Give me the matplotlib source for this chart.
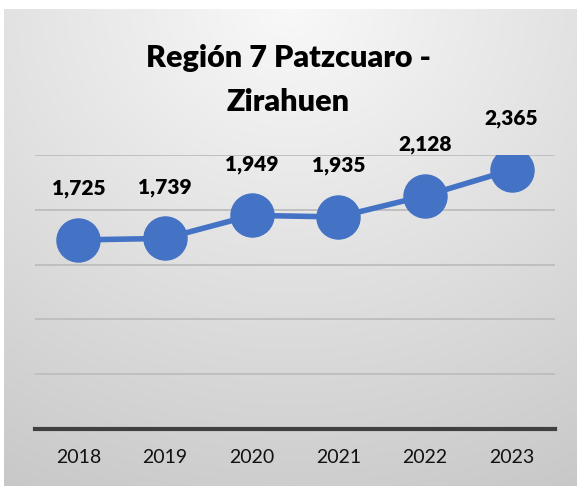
import numpy as np
import matplotlib.pyplot as plt

years = ['2018', '2019', '2020', '2021', '2022', '2023']
values = [1725, 1739, 1949, 1935, 2128, 2365]
labels = ['1,725', '1,739', '1,949', '1,935', '2,128', '2,365']
title = 'Región 7 Patzcuaro -\nZirahuen'

blue = '#4472C4'
plt.rcParams['font.family'] = ['Lato', 'DejaVu Sans']

fig = plt.figure(figsize=(5.77, 4.86), dpi=100)
fig.patch.set_facecolor('white')

# radial gradient background of the chart area
bg = fig.add_axes([4 / 577, 0, 1 - 4 / 577, 1 - 9 / 486])
bg.set_axis_off()
yy, xx = np.mgrid[0:1:300j, 0:1:300j]
r = np.sqrt(((xx - 0.5) * 1.0) ** 2 + (yy * 0.95) ** 2)
r = r / r.max()
shade = 0.975 - 0.19 * r
bg.imshow(np.dstack([shade] * 3), extent=[0, 1, 0, 1], origin='upper', aspect='auto')
bg.set_xlim(0, 1)
bg.set_ylim(0, 1)

ax = fig.add_axes([35 / 577, 1 - 429 / 486, 520 / 577, 274 / 486])
ax.patch.set_alpha(0)
x = np.arange(len(years))
ax.set_xlim(-0.5, len(years) - 0.5)
ax.set_ylim(0, 2500)
ax.set_yticks([500, 1000, 1500, 2000, 2500])
ax.yaxis.grid(True, color='#bdbdbd', lw=1.3)
ax.set_axisbelow(True)
ax.tick_params(left=False, labelleft=False, bottom=False)
ax.set_xticks(x)
ax.set_xticklabels(years, fontsize=14, color='#111111')
ax.tick_params(axis='x', pad=11)
for side in ['left', 'right', 'top']:
    ax.spines[side].set_visible(False)
ax.spines['bottom'].set_color('#404040')
ax.spines['bottom'].set_linewidth(3)

ax.plot(x, values, color=blue, lw=4, marker='o', markersize=31, zorder=3)
for xi, v, lab in zip(x, values, labels):
    ax.annotate(lab, (xi, v), xytext=(0, 30), textcoords='offset points',
                ha='center', va='bottom', fontsize=15, fontweight='heavy', color='#000000')

fig.text(0.5, 1 - 80 / 486, title, ha='center', va='center', fontsize=22,
         fontweight='heavy', color='#000000', linespacing=1.7)

fig.savefig('out.png', dpi=100)
